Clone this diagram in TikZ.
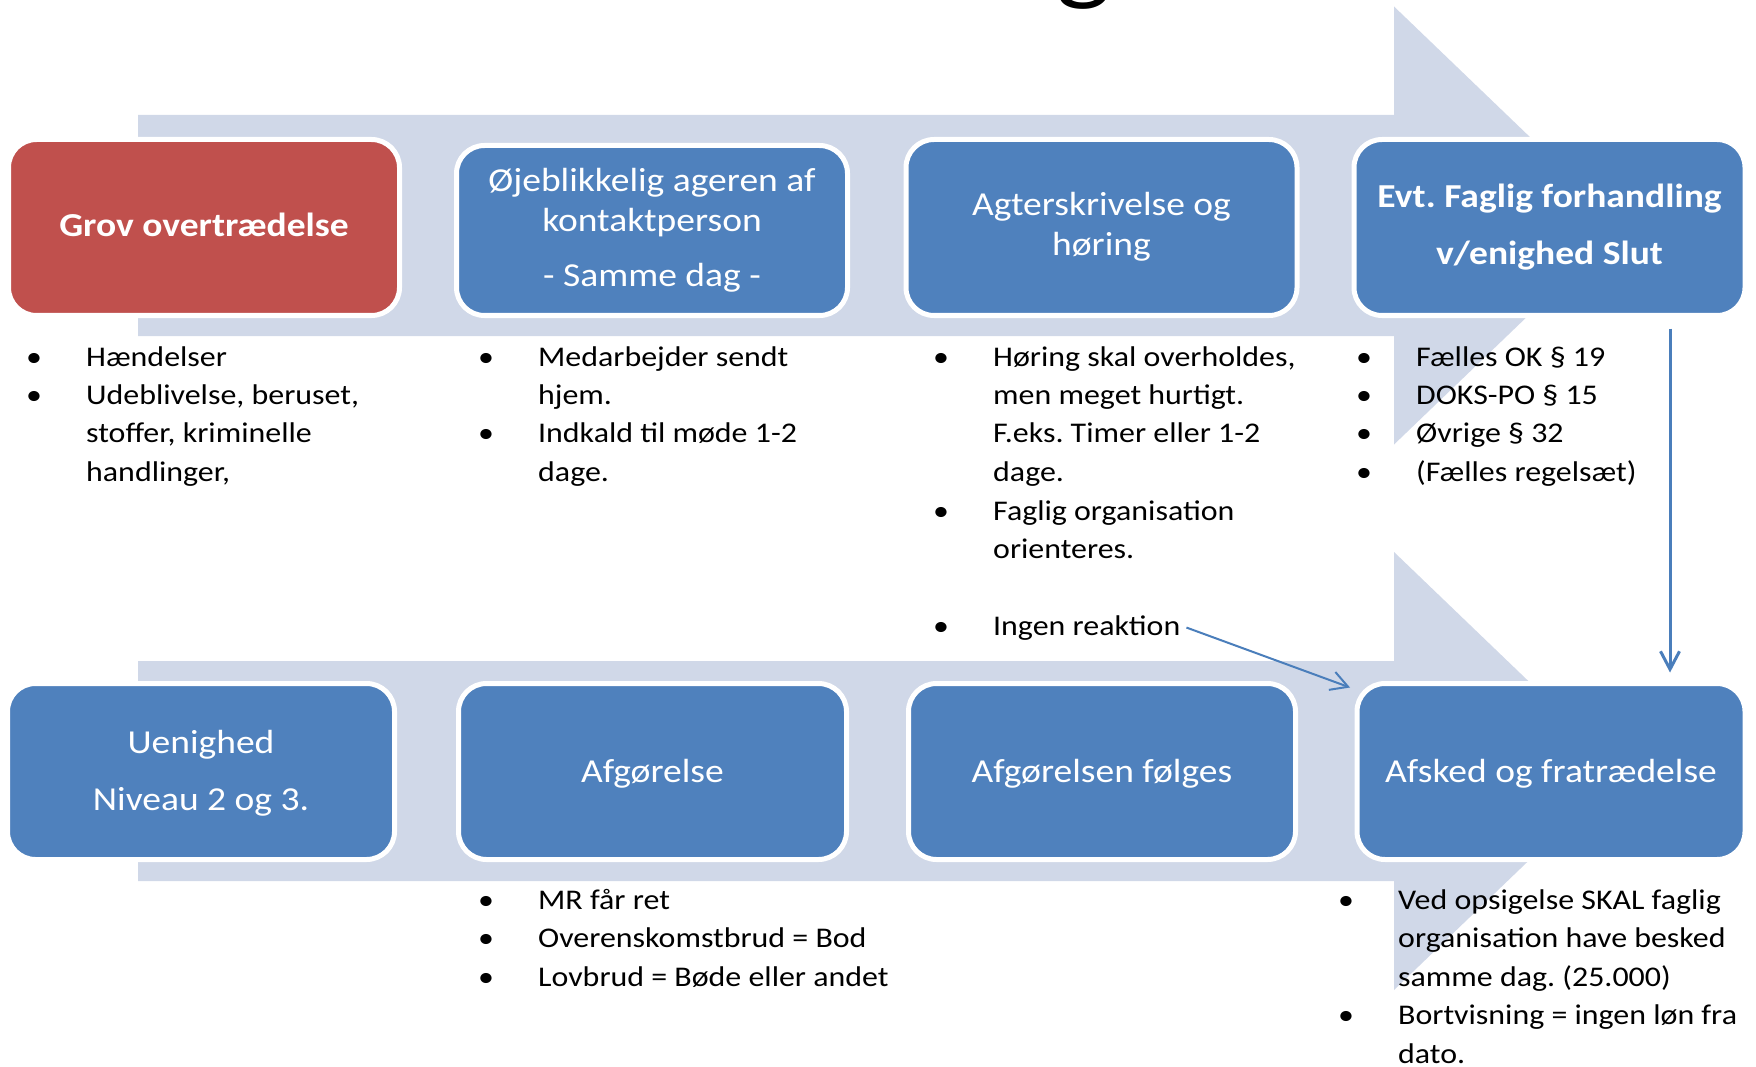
\documentclass[tikz,border=0pt]{standalone}
\usepackage{fontspec}
\setmainfont{Carlito}[FakeStretch=1.12]
\usetikzlibrary{arrows.meta,calc}
\definecolor{flow}{HTML}{D0D8E8}
\definecolor{stagered}{HTML}{C0504D}
\definecolor{stageblue}{HTML}{4F81BD}
\definecolor{linkblue}{HTML}{4A7EBB}
\frenchspacing
% bullet with its hanging indent, and the indent alone for wrapped lines
\newcommand\bul{\makebox[60pt][l]{\textbullet}}
\newcommand\ind{\hspace*{60pt}}
% stacked lines whose baseline is the first line
\newcommand\rows[2][l]{\begin{tabular}[t]{@{}#1@{}}#2\end{tabular}}

\begin{document}
\begin{tikzpicture}[x=1pt,y=-1pt,
  flowarrow/.style={fill=flow},
  stage/.style={rounded corners=28pt, draw=white, line width=5pt,
    minimum width=391pt, minimum height=176pt, inner sep=0pt, outer sep=0pt},
  stagetext/.style={text=white, inner sep=0pt, anchor=base,
    font=\fontsize{33.5}{40}\selectfont},
  notes/.style={inner sep=0pt, anchor=base west,
    font=\fontsize{28.5}{38.5}\selectfont},
  link/.style={draw=linkblue, line width=2pt,
    -{Straight Barb[length=17pt,width=19pt]}}
]
\fill[white] (0,0) rectangle (1756,1067);
\useasboundingbox (0,0) rectangle (1756,1067);
\clip (0,0) rectangle (1756,1067);

% heading, only its last letter's tail shows at the top edge
\node[inner sep=0pt, anchor=base west, font=\fontsize{104}{110}\selectfont] (titleg) at (1056,-8) {g};

% the two broad process arrows
\fill[flowarrow] (138,115) -- (1394,115) -- (1394,6.5) -- (1622,225.5)
  -- (1394,444.5) -- (1394,336) -- (138,336) -- cycle;
\fill[flowarrow] (138,661) -- (1394,661) -- (1394,552) -- (1622,771)
  -- (1394,990) -- (1394,881) -- (138,881) -- cycle;

% stages, upper row
\node[stage, fill=stagered] (b11) at (204,227.5) {};
\node[stage, fill=stageblue, minimum height=170pt] (b12) at (652,230.5) {};
\node[stage, fill=stageblue] (b13) at (1101.5,227.5) {};
\node[stage, fill=stageblue] (b14) at (1549.5,227.5) {};
% stages, lower row
\node[stage, fill=stageblue, minimum width=387pt] (b21) at (201,771.5) {};
\node[stage, fill=stageblue, minimum width=388pt] (b22) at (652.5,771.5) {};
\node[stage, fill=stageblue, minimum width=387pt] (b23) at (1102,771.5) {};
\node[stage, fill=stageblue, minimum width=388pt] (b24) at (1551,771.5) {};

% stage titles
\node[stagetext] (t11) at (204,237) {\bfseries Grov overtrædelse};
\node[stagetext] (t12) at (652,192) {\rows[c]{Øjeblikkelig ageren af\\kontaktperson\\[15pt]- Samme dag -}};
\node[stagetext] (t13) at (1101.5,216) {\rows[c]{Agterskrivelse og\\høring}};
\node[stagetext] (t14) at (1549.5,208) {\bfseries\rows[c]{Evt. Faglig forhandling\\[17pt]v/enighed Slut}};
\node[stagetext] (t21) at (201,753) {\rows[c]{Uenighed\\[17pt]Niveau 2 og 3.}};
\node[stagetext] (t22) at (652.5,782) {Afgørelse};
\node[stagetext] (t23) at (1102,782) {Afgørelsen følges};
\node[stagetext] (t24) at (1551,782) {Afsked og fratrædelse};

% notes under the stages
\node[notes] (n11) at (26,366) {\rows{\bul Hændelser\\
  \bul Udeblivelse, beruset,\\ \ind stoffer, kriminelle\\ \ind handlinger,}};
\node[notes] (n12) at (478,366) {\rows{\bul Medarbejder sendt\\ \ind hjem.\\
  \bul Indkald til møde 1-2\\ \ind dage.}};
\node[notes] (n13) at (933,366) {\rows{\bul Høring skal overholdes,\\
  \ind men meget hurtigt.\\ \ind F.eks. Timer eller 1-2\\ \ind dage.\\
  \bul Faglig organisation\\ \ind orienteres.}};
\node[notes] (ingen) at (933,635) {\bul Ingen reaktion};
\node[notes] (n14) at (1356,366) {\rows{\bul Fælles OK § 19\\ \bul DOKS-PO § 15\\
  \bul Øvrige § 32\\ \bul (Fælles regelsæt)}};
\node[notes] (n22) at (478,909) {\rows{\bul MR får ret\\
  \bul Overenskomstbrud = Bod\\ \bul Lovbrud = Bøde eller andet}};
\node[notes] (n24) at (1338,909) {\rows{\bul Ved opsigelse SKAL faglig\\
  \ind organisation have besked\\ \ind samme dag. (25.000)\\
  \bul Bortvisning = ingen løn fra\\ \ind dato.}};

% connectors
\draw[link] ([xshift=6pt]ingen.east) -- ($(b24.north west)+(-7,4)$);
\draw[link, line width=3pt, -{Straight Barb[length=18pt,width=19pt]}]
  ($(b14.south east)+(-75,13)$) -- ($(b24.north east)+(-75,-11)$);
\end{tikzpicture}
\end{document}
